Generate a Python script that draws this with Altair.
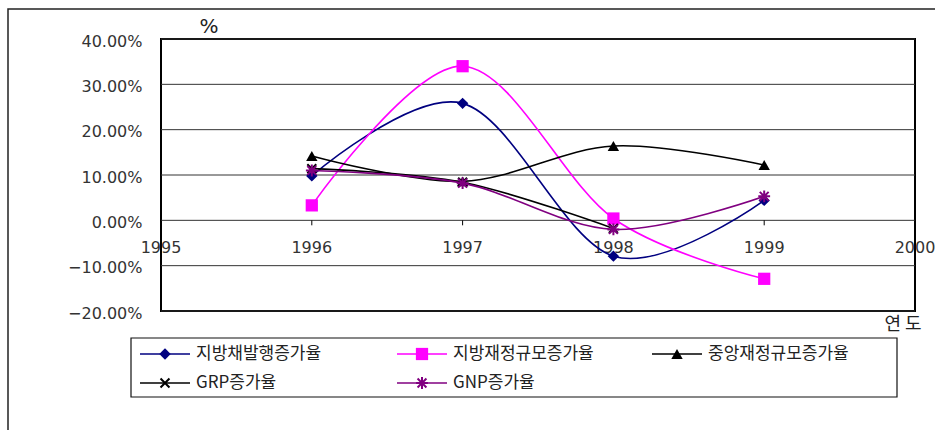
import altair as alt
import pandas as pd

# Growth rates by year (fractions)
years = [1996, 1997, 1998, 1999]
series_names = ["지방채발행증가율", "지방재정규모증가율", "중앙재정규모증가율", "GRP증가율", "GNP증가율"]
bond_issue = [0.098, 0.258, -0.079, 0.044]
local_fiscal = [0.033, 0.340, 0.004, -0.129]
central_fiscal = [0.142, 0.086, 0.164, 0.122]
grp = [0.114, 0.084, -0.018]
gnp = [0.110, 0.082, -0.020, 0.053]
x_tick_labels = [1995, 1996, 1997, 1998, 1999, 2000]
y_tick_values = [-0.2, -0.1, 0.0, 0.1, 0.2, 0.3, 0.4]

series_values = [bond_issue, local_fiscal, central_fiscal, grp, gnp]
colors = ["#000080", "#FF00FF", "#000000", "#000000", "#800080"]

X_PATH = "M-1,-1L1,1M-1,1L1,-1"
STAR_PATH = "M-1,0L1,0M0,-1L0,1M-0.75,-0.75L0.75,0.75M-0.75,0.75L0.75,-0.75"
marker_style = [
    dict(shape="diamond", size=130, filled=True),
    dict(shape="square", size=150, filled=True),
    dict(shape="triangle-up", size=130, filled=True),
    dict(shape=X_PATH, size=80, filled=False, strokeWidth=2),
    dict(shape=STAR_PATH, size=140, filled=False, strokeWidth=2),
]

W, H = 754, 272
LATIN = "DejaVu Sans"
KR = "Noto Sans CJK KR"

x_scale = alt.Scale(domain=[1995, 2000], nice=False, zero=False)
y_scale = alt.Scale(domain=[-0.2, 0.4], nice=False, zero=False)

one = pd.DataFrame({"k": [0]})

layers = []

# y axis with horizontal gridlines
axis_layer = alt.Chart(pd.DataFrame({"v": y_tick_values})).mark_rule(
    color="#333333", strokeWidth=1
).encode(
    y=alt.Y("v:Q", scale=y_scale, axis=alt.Axis(
        values=y_tick_values, format=".2%", title=None, grid=False,
        ticks=False, domain=False, labelFont=LATIN, labelFontSize=16,
        labelColor="#333333", labelPadding=19, labelOffset=2)),
    x=alt.value(0), x2=alt.value(W),
)
layers.append(axis_layer)

# x labels along the zero line with small ticks
xl = pd.DataFrame({"year": x_tick_labels})
layers.append(alt.Chart(xl).mark_rule(color="#000000", strokeWidth=1).encode(
    x=alt.X("year:Q", scale=x_scale, axis=None),
    y=alt.datum(0, scale=y_scale), y2=alt.datum(-0.011),
))
layers.append(alt.Chart(xl).mark_text(
    font=LATIN, fontSize=16, color="#333333", dy=28, baseline="middle"
).encode(
    x=alt.X("year:Q", scale=x_scale, axis=None),
    y=alt.datum(0, scale=y_scale),
    text=alt.Text("year:Q", format="d"),
))

# series lines and markers
for name, vals, col, ms in zip(series_names, series_values, colors, marker_style):
    d = pd.DataFrame({"year": years[:len(vals)], "value": vals, "series": name})
    layers.append(alt.Chart(d).mark_line(
        interpolate="cardinal", tension=0, color=col, strokeWidth=1.6
    ).encode(
        x=alt.X("year:Q", scale=x_scale, axis=None),
        y=alt.Y("value:Q", scale=y_scale),
    ))
    pt_kwargs = dict(shape=ms["shape"], size=ms["size"], filled=ms["filled"],
                     color=col, opacity=1)
    if not ms["filled"]:
        pt_kwargs["strokeWidth"] = ms["strokeWidth"]
    layers.append(alt.Chart(d).mark_point(**pt_kwargs).encode(
        x=alt.X("year:Q", scale=x_scale, axis=None),
        y=alt.Y("value:Q", scale=y_scale),
    ))

# axis titles
layers.append(alt.Chart(one).mark_text(
    text="%", font=LATIN, fontSize=20, color="#222222", baseline="middle"
).encode(x=alt.value(48), y=alt.value(-12)))
layers.append(alt.Chart(one).mark_text(
    text="연 도", font=KR, fontSize=18, color="#222222", baseline="middle"
).encode(x=alt.value(742), y=alt.value(286)))

# outer frame
layers.append(alt.Chart(one).mark_rect(
    filled=False, stroke="#222222", strokeWidth=1.5
).encode(x=alt.value(-153), x2=alt.value(785), y=alt.value(-30), y2=alt.value(400)))

# legend box and entries
layers.append(alt.Chart(one).mark_rect(
    filled=False, stroke="#111111", strokeWidth=1.2
).encode(x=alt.value(-30), x2=alt.value(736), y=alt.value(299), y2=alt.value(358)))

col_x = [-21, 236, 491]
row_y = [315, 344]
for i, (name, col, ms) in enumerate(zip(series_names, colors, marker_style)):
    lx = col_x[i % 3]
    ly = row_y[i // 3]
    layers.append(alt.Chart(one).mark_rule(color=col, strokeWidth=1.6).encode(
        x=alt.value(lx), x2=alt.value(lx + 50), y=alt.value(ly)))
    pt_kwargs = dict(shape=ms["shape"], size=ms["size"], filled=ms["filled"],
                     color=col, opacity=1)
    if not ms["filled"]:
        pt_kwargs["strokeWidth"] = ms["strokeWidth"]
    layers.append(alt.Chart(one).mark_point(**pt_kwargs).encode(
        x=alt.value(lx + 25), y=alt.value(ly)))
    layers.append(alt.Chart(one).mark_text(
        text=name, font=KR, fontSize=17, color="#222222", align="left",
        baseline="middle"
    ).encode(x=alt.value(lx + 56), y=alt.value(ly)))

chart = alt.layer(*layers).properties(
    width=W, height=H,
    autosize=alt.AutoSizeParams(type="none"),
    padding={"left": 161, "top": 39, "right": 20, "bottom": 119},
    background="white",
).configure_view(stroke="#000000", strokeWidth=2)

chart.save("out.html", embed_options={"renderer": "svg", "actions": False})
